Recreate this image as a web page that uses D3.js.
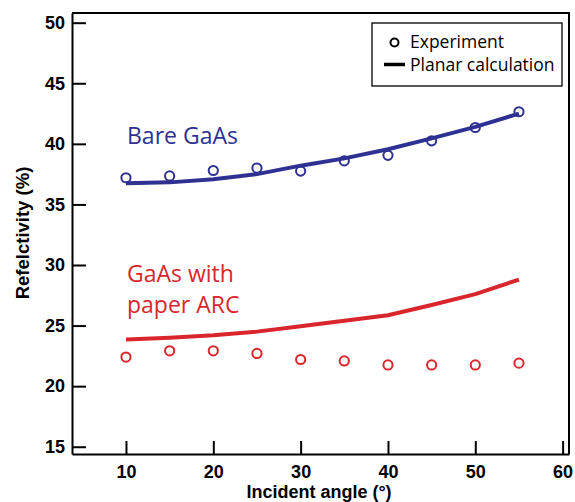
<html>
<head>
	<title>reflectivity</title>
	<style>
		body { margin:0; padding:0; background:#fff; }
		.axis text { font-family: "Liberation Sans", Arial, sans-serif; font-weight:bold; font-size:18px; fill:#000; }
		.axis path, .axis line { stroke:#000; stroke-width:2; }
	</style>
</head>
<body>
	<svg width="575" height="502"></svg>

	<script src="https://d3js.org/d3.v7.min.js"></script>
	<script>
		// incident angle (deg)
		var angles = [10, 15, 20, 25, 30, 35, 40, 45, 50, 55];
		// bare GaAs
		var bareExp  = [37.2, 37.35, 37.8, 38.0, 37.75, 38.6, 39.05, 40.25, 41.35, 42.65];
		var bareCalc = [36.74, 36.82, 37.07, 37.5, 38.2, 38.8, 39.55, 40.45, 41.4, 42.5];
		// GaAs with paper ARC
		var arcExp  = [22.4, 22.92, 22.92, 22.7, 22.2, 22.08, 21.75, 21.75, 21.75, 21.9];
		var arcCalc = [23.86, 24.0, 24.2, 24.5, 24.95, 25.4, 25.86, 26.7, 27.6, 28.8];

		var xTicks = [10, 20, 30, 40, 50, 60];
		var yTicks = [15, 20, 25, 30, 35, 40, 45, 50];

		var blue = "#2e3192", red = "#d9262c";

		var pLeft = 72, pRight = 569, pTop = 13, pBottom = 454;
		var x = d3.scaleLinear().domain([3.82, 60.73]).range([pLeft, pRight]);
		var y = d3.scaleLinear().domain([14.4, 50.8]).range([pBottom, pTop]);

		var svg = d3.select("svg");

		// frame (top + right)
		svg.append("path")
			.attr("d", "M" + pLeft + "," + pTop + "H" + pRight + "V" + pBottom)
			.attr("fill", "none")
			.attr("stroke", "#000")
			.attr("stroke-width", 2);

		svg.append("g")
			.attr("class", "axis")
			.attr("transform", "translate(" + pLeft + ",0)")
			.call(d3.axisLeft(y).tickValues(yTicks).tickSize(-14).tickSizeOuter(0).tickPadding(7));

		svg.append("g")
			.attr("class", "axis")
			.attr("transform", "translate(0," + pBottom + ")")
			.call(d3.axisBottom(x).tickValues(xTicks).tickSize(-13).tickSizeOuter(0).tickPadding(11));

		svg.append("text")
			.attr("x", 319).attr("y", 498)
			.attr("text-anchor", "middle")
			.style("font-family", "Liberation Sans, Arial, sans-serif")
			.style("font-weight", "bold").style("font-size", "18px")
			.text("Incident angle (°)");

		svg.append("text")
			.attr("transform", "translate(29,233) rotate(-90)")
			.attr("text-anchor", "middle")
			.style("font-family", "Liberation Sans, Arial, sans-serif")
			.style("font-weight", "bold").style("font-size", "18.5px")
			.text("Refelctivity (%)");

		function drawSeries(expVals, calcVals, color) {
			var line = d3.line()
				.x(function(d, i) { return x(angles[i]); })
				.y(function(d) { return y(d); });

			svg.append("path")
				.datum(calcVals)
				.attr("d", line)
				.attr("fill", "none")
				.attr("stroke", color)
				.attr("stroke-width", 4);

			svg.append("g")
				.selectAll("circle")
				.data(expVals)
				.enter()
				.append("circle")
				.attr("cx", function(d, i) { return x(angles[i]); })
				.attr("cy", function(d) { return y(d); })
				.attr("r", 4.6)
				.attr("fill", "none")
				.attr("stroke", color)
				.attr("stroke-width", 2);
		}

		drawSeries(bareExp, bareCalc, blue);
		drawSeries(arcExp, arcCalc, red);

		// series labels
		var lblFont = "'Open Sans', sans-serif";
		svg.append("text")
			.attr("x", 127).attr("y", 144)
			.style("font-family", lblFont).style("font-size", "23px")
			.style("fill", blue)
			.text("Bare GaAs");

		var arcLbl = svg.append("text")
			.style("font-family", lblFont).style("font-size", "23px")
			.style("fill", red);
		arcLbl.append("tspan").attr("x", 127).attr("y", 281.5).text("GaAs with");
		arcLbl.append("tspan").attr("x", 127).attr("y", 312.5).text("paper ARC");

		// legend
		var lg = svg.append("g");
		lg.append("rect")
			.attr("x", 372).attr("y", 23).attr("width", 190).attr("height", 63)
			.attr("fill", "#fff").attr("stroke", "#000").attr("stroke-width", 1.3);
		lg.append("circle")
			.attr("cx", 394.5).attr("cy", 42.5).attr("r", 4)
			.attr("fill", "none").attr("stroke", "#000").attr("stroke-width", 2);
		lg.append("line")
			.attr("x1", 384).attr("x2", 405).attr("y1", 64.5).attr("y2", 64.5)
			.attr("stroke", "#000").attr("stroke-width", 3.5);
		lg.append("text")
			.attr("x", 410).attr("y", 47.5)
			.style("font-family", lblFont).style("font-size", "17.5px")
			.text("Experiment");
		lg.append("text")
			.attr("x", 410).attr("y", 71)
			.style("font-family", lblFont).style("font-size", "17.5px")
			.text("Planar calculation");
	</script>
</body>
</html>
